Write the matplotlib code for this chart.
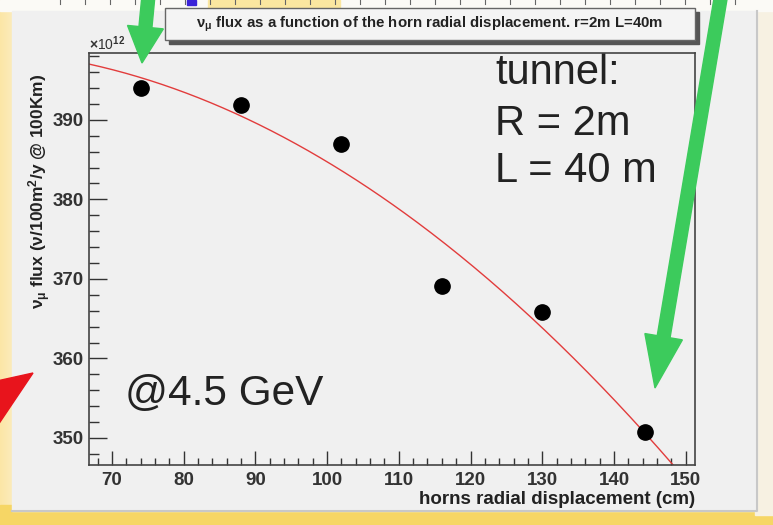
import numpy as np
import matplotlib
matplotlib.use('Agg')
import matplotlib.pyplot as plt
from matplotlib.patches import Rectangle, Polygon
from matplotlib.ticker import MultipleLocator

# measured points: horn radial displacement (cm) vs nu_mu flux (x1e12)
displacement = [74, 88, 102, 116, 130, 144.3]
flux = [394.0, 391.9, 387.0, 369.1, 365.8, 350.8]

x_ticks = [70, 80, 90, 100, 110, 120, 130, 140, 150]
y_ticks = [350, 360, 370, 380, 390]

title = r'$\nu_{\mu}$ flux as a function of the horn radial displacement. r=2m L=40m'
x_title = 'horns radial displacement (cm)'
y_title = r'$\nu_{\mu}$ flux ($\nu$/100m$^{2}$/y @ 100Km)'

W, H = 773, 525
plt.rcParams['font.family'] = ['Liberation Sans', 'DejaVu Sans']
plt.rcParams['mathtext.fontset'] = 'custom'
plt.rcParams['mathtext.rm'] = 'Liberation Sans:bold'
plt.rcParams['mathtext.it'] = 'Liberation Sans:bold'

fig = plt.figure(figsize=(W / 100, H / 100), dpi=100)

# background slide (pixel coordinates)
bg = fig.add_axes([0, 0, 1, 1], zorder=0)
bg.set_xlim(0, W)
bg.set_ylim(H, 0)
bg.axis('off')
grad = np.linspace(0, 1, 64).reshape(1, -1)
bg.imshow(grad, extent=(0, 30, H, 0), cmap=matplotlib.colors.LinearSegmentedColormap.from_list(
    'y', ['#fbe6a6', '#fdf4d8']), aspect='auto', zorder=0)
bg.add_patch(Rectangle((0, 505), W, 20, color='#f6d665', zorder=1))
bg.add_patch(Rectangle((755, 0), 18, 515, color='#f7f1e2', zorder=1))
bg.add_patch(Rectangle((0, 0), W, 11, color='#fbfaf6', zorder=1))
bg.add_patch(Rectangle((208, 0), 132, 11, color='#fbe7a0', zorder=2))
bg.add_patch(Rectangle((187, 0), 9, 5, color='#3a22d8', zorder=2))
for xr in range(60, 760, 25):
    bg.plot([xr, xr], [0, 4], color='#666666', lw=0.8, zorder=2)
bg.add_patch(Rectangle((12, 11), 745, 500, color='#f0f0f0', zorder=2))
bg.plot([12, 757, 757], [511, 511, 11], color='#c8c8c8', lw=1.5, zorder=2)

# title box with shadow
bg.add_patch(Rectangle((169, 12), 530, 32, color='#555555', zorder=3))
bg.add_patch(Rectangle((165, 8), 530, 32, facecolor='#f4f4f4', edgecolor='#666666', lw=1, zorder=4))
bg.text(430, 24, title, ha='center', va='center', fontsize=10.8, fontweight='bold',
        color='#222222', zorder=5)

# main plot
ax = fig.add_axes([89 / W, 1 - 465 / H, (695 - 89) / W, (465 - 53) / H], zorder=1)
ax.set_facecolor('none')

xfit = np.linspace(66.8, 151.3, 300)
coef = np.polyfit(displacement, flux, 2)
ax.plot(xfit, np.polyval(coef, xfit), color='#e23c3c', lw=1.0, zorder=2)
ax.plot(displacement, flux, 'o', color='black', markersize=11, zorder=3)

ax.set_xlim(66.8, 151.3)
ax.set_ylim(346.6, 398.4)
ax.set_xticks(x_ticks)
ax.set_yticks(y_ticks)
ax.xaxis.set_minor_locator(MultipleLocator(2))
ax.yaxis.set_minor_locator(MultipleLocator(2))
ax.tick_params(axis='both', which='both', direction='in', top=False, right=False,
               colors='#333333', width=1.0)
ax.tick_params(axis='y', which='major', length=13, pad=4)
ax.tick_params(axis='y', which='minor', length=7)
ax.tick_params(axis='x', which='major', length=10, pad=5)
ax.tick_params(axis='x', which='minor', length=5)
for lab in ax.get_xticklabels() + ax.get_yticklabels():
    lab.set_fontsize(13.5)
    lab.set_fontweight('bold')
    lab.set_color('#333333')
for sp in ax.spines.values():
    sp.set_color('#444444')
    sp.set_linewidth(1.2)

ax.set_xlabel(x_title, fontsize=13.5, fontweight='bold', color='#222222')
ax.xaxis.set_label_coords(1.0, -0.063)
ax.xaxis.label.set_ha('right')
ax.set_ylabel(y_title, fontsize=12.5, fontweight='bold', color='#222222')
ax.yaxis.set_label_coords(-0.06, 0.665)

ax.text(0.0, 1.0, r'$\times$10$^{12}$', transform=ax.transAxes, fontsize=10,
        color='#333333', va='bottom', ha='left')

# slide annotations
for txt, yb in [('tunnel:', 84), ('R = 2m', 135), ('L = 40 m', 182)]:
    bg.text(495, yb, txt, fontsize=30, color='#222222', va='baseline', ha='left', zorder=6)
bg.text(125, 405, '@4.5 GeV', fontsize=30.5, color='#222222', va='baseline', ha='left', zorder=6)

# arrows on top
ov = fig.add_axes([0, 0, 1, 1], zorder=5)
ov.set_xlim(0, W)
ov.set_ylim(H, 0)
ov.axis('off')
ov.patch.set_alpha(0)


def arrow_poly(tail, tip, w, hw, hl):
    t = np.array(tail, float)
    p = np.array(tip, float)
    d = (p - t) / np.linalg.norm(p - t)
    n = np.array([-d[1], d[0]])
    b = p - d * hl
    return [t + n * w / 2, b + n * w / 2, b + n * hw / 2, p,
            b - n * hw / 2, b - n * w / 2, t - n * w / 2]


green = '#3ccb5c'
ov.add_patch(Polygon(arrow_poly((149, -10), (142, 63), 13, 36, 36), color=green))
ov.add_patch(Polygon(arrow_poly((722, -10), (655, 388), 13, 38, 52), color=green))
ov.add_patch(Polygon(arrow_poly((-80, 450), (33, 373), 14, 48, 60), color='#e8141c'))

fig.savefig('out.png', dpi=100)
